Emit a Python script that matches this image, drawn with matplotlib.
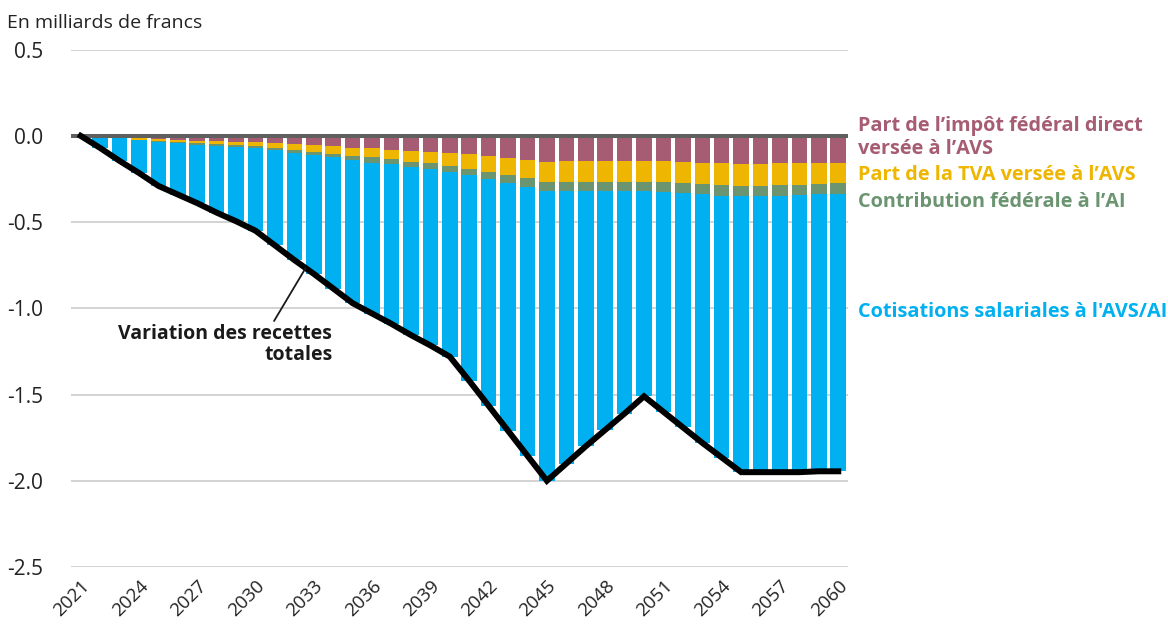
import matplotlib
matplotlib.use("Agg")
import matplotlib.pyplot as plt
import numpy as np

plt.rcParams['font.family'] = ['Open Sans', 'DejaVu Sans']

years = list(range(2021, 2061))

# Total change in revenue (billions of francs)
total = [0.0, -0.07, -0.145, -0.215, -0.29, -0.34, -0.39, -0.445, -0.495, -0.55,
         -0.635, -0.72, -0.80, -0.885, -0.97, -1.03, -1.09, -1.155, -1.215, -1.28,
         -1.42, -1.565, -1.71, -1.855, -2.0, -1.90, -1.80, -1.705, -1.61, -1.51,
         -1.60, -1.69, -1.78, -1.865, -1.95, -1.95, -1.95, -1.95, -1.945, -1.945]

# Federal direct tax share paid to AVS
impot_federal = [0.0, 0.002, 0.004, 0.012, 0.018, 0.024, 0.030, 0.030, 0.034, 0.036,
                 0.044, 0.047, 0.053, 0.059, 0.069, 0.073, 0.082, 0.086, 0.092, 0.102,
                 0.107, 0.117, 0.131, 0.142, 0.154, 0.148, 0.148, 0.148, 0.144, 0.144,
                 0.148, 0.154, 0.156, 0.160, 0.163, 0.163, 0.160, 0.160, 0.160, 0.160]

# VAT share paid to AVS
tva = [0.0, 0.003, 0.005, 0.009, 0.014, 0.012, 0.014, 0.017, 0.021, 0.023,
       0.027, 0.035, 0.039, 0.046, 0.046, 0.052, 0.054, 0.064, 0.068, 0.071,
       0.083, 0.091, 0.096, 0.104, 0.112, 0.118, 0.118, 0.118, 0.122, 0.122,
       0.120, 0.121, 0.123, 0.125, 0.130, 0.126, 0.125, 0.125, 0.119, 0.115]

# Federal contribution to AI
contrib_ai = [0.0, 0.001, 0.002, 0.003, 0.006, 0.008, 0.007, 0.010, 0.008, 0.012,
              0.013, 0.018, 0.017, 0.020, 0.023, 0.031, 0.029, 0.031, 0.034, 0.035,
              0.039, 0.044, 0.048, 0.053, 0.054, 0.054, 0.054, 0.054, 0.054, 0.054,
              0.056, 0.056, 0.060, 0.062, 0.058, 0.062, 0.062, 0.060, 0.060, 0.060]

tick_years = list(range(2021, 2061, 3))
y_ticks = [0.5, 0.0, -0.5, -1.0, -1.5, -2.0, -2.5]

c_blue = '#00B0F0'
c_green = '#6B9571'
c_yellow = '#EEB600'
c_mauve = '#A65C73'

x = np.arange(len(years))
red = -np.array(impot_federal)
yel = -np.array(tva)
grn = -np.array(contrib_ai)
tot = np.array(total)
# wage contributions make up the remainder of the total
blue = tot - red - yel - grn

fig = plt.figure(figsize=(11.68, 6.25), dpi=100)
ax = fig.add_axes([0.0608, 0.0928, 0.6652, 0.8277])

w = 0.8
ax.bar(x, red, width=w, color=c_mauve, zorder=2)
ax.bar(x, yel, width=w, bottom=red, color=c_yellow, zorder=2)
ax.bar(x, grn, width=w, bottom=red + yel, color=c_green, zorder=2)
ax.bar(x, blue, width=w, bottom=red + yel + grn, color=c_blue, zorder=2)

ax.plot(x, tot, color='black', lw=4.3, solid_joinstyle='miter', zorder=4)

ax.axhline(0, color='#5F5F5F', lw=2.9, zorder=3)

ax.set_xlim(-0.5, len(years) - 0.5)
ax.set_ylim(-2.5, 0.5)
ax.set_yticks(y_ticks)
ax.set_yticklabels([f"{v:.1f}" for v in y_ticks])
ax.yaxis.grid(True, color='#C8C8C8', lw=1.1, zorder=0)
ax.set_axisbelow(True)

ax.set_xticks([years.index(y) for y in tick_years])
ax.set_xticklabels([str(y) for y in tick_years], rotation=45, ha='right',
                   rotation_mode='anchor', fontsize=13.5, color='#222222')
ax.tick_params(axis='x', length=0, pad=7)
ax.tick_params(axis='y', length=0, pad=20, labelsize=15, labelcolor='#222222')
for s in ax.spines.values():
    s.set_visible(False)

fig.text(0.006, 0.963, "En milliards de francs", fontsize=14, color='#222222',
         ha='left', va='center')

ax.annotate("Variation des recettes\ntotales", xy=(11.57, -0.768),
            xytext=(12.95, -1.21), ha='right', va='center', multialignment='right',
            fontsize=14, fontweight='bold', color='#1A1A1A', linespacing=1.1,
            arrowprops=dict(arrowstyle='-', color='#1A1A1A', lw=1.3,
                            shrinkA=0, shrinkB=0,
                            relpos=(0.72, 1.0)),
            zorder=5)

lab_x = 858 / 1168
def ytop(py):
    return 1 - py / 625

fig.text(lab_x, ytop(137), "Part de l\u2019impôt fédéral direct\nversée à l\u2019AVS",
         color=c_mauve, fontsize=14.3, fontweight='bold', ha='left', va='center',
         linespacing=1.2)
fig.text(lab_x, ytop(175), "Part de la TVA versée à l\u2019AVS", color=c_yellow,
         fontsize=14.3, fontweight='bold', ha='left', va='center')
fig.text(lab_x, ytop(202), "Contribution fédérale à l\u2019AI", color=c_green,
         fontsize=14.3, fontweight='bold', ha='left', va='center')
fig.text(lab_x, ytop(312), "Cotisations salariales à l'AVS/AI", color=c_blue,
         fontsize=14.3, fontweight='bold', ha='left', va='center')

fig.savefig("out.png", dpi=100)
